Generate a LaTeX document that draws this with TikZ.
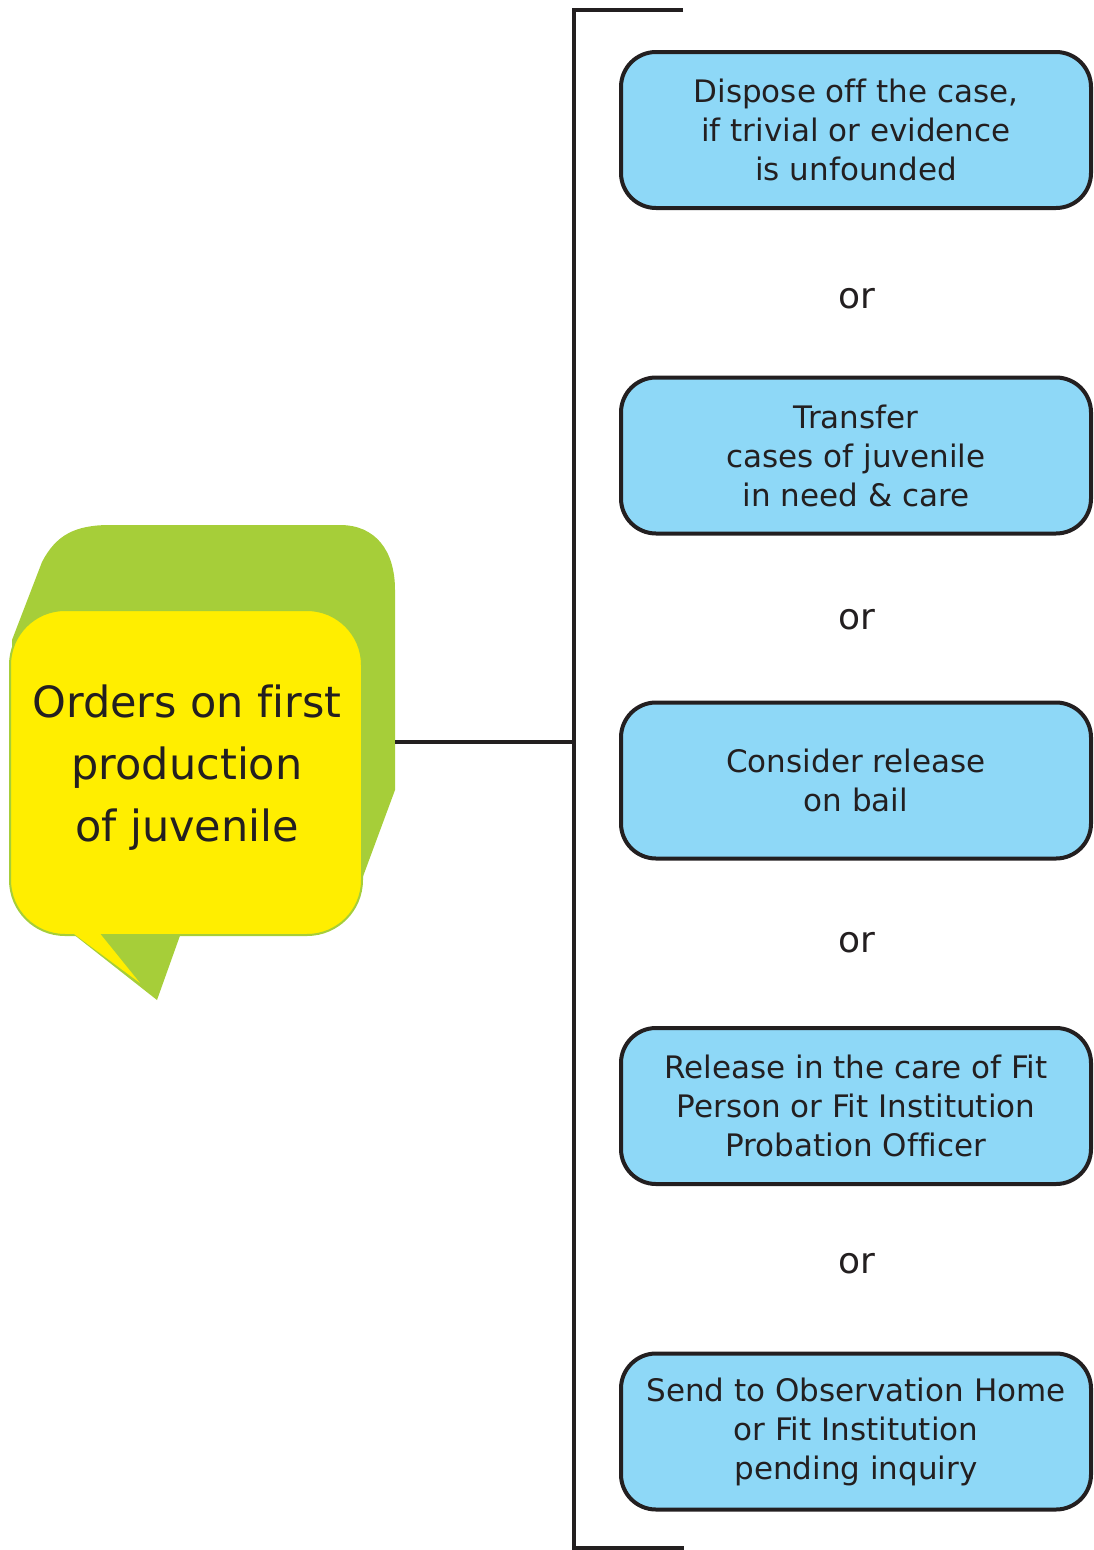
\documentclass[tikz,border=0pt]{standalone}
\usepackage{fontspec}
\setmainfont[Ligatures=NoCommon]{DejaVu Sans}
\definecolor{boxblue}{HTML}{8ED8F7}
\definecolor{bgreen}{HTML}{A6CE39}
\definecolor{byellow}{HTML}{FFEE00}
\definecolor{ink}{HTML}{231F20}
\begin{document}
\begin{tikzpicture}[x=1pt,y=-1pt,
  optbox/.style={draw=ink, line width=4pt, fill=boxblue, rounded corners=35pt,
    minimum width=470pt, minimum height=156pt, align=center, text=ink,
    font=\fontsize{31}{39}\selectfont, inner sep=0pt},
  ortext/.style={text=ink, font=\fontsize{36}{40}\selectfont},
  rule/.style={draw=ink, line width=4pt}]
\useasboundingbox (0,0) rectangle (1094,1550);
% green back shape of the bubble
\fill[bgreen] (12,640) -- (42,562) .. controls (56,535) and (75,525) .. (110,525)
  -- (340,525) .. controls (375,525) and (395,550) .. (395,590)
  -- (395,790) -- (358,890) -- (100,880) -- (14,860) -- cycle;
\fill[bgreen] (68,930) -- (182,930) -- (157,1000) -- cycle;
% yellow front
\node[draw=bgreen, line width=2pt, fill=byellow, rounded corners=55pt,
  minimum width=352pt, minimum height=325pt, inner sep=0pt] (bubble) at (186,772.5) {};
\fill[byellow] (70,931) -- (98,931) -- (140,983) -- cycle;
\node[text=ink, align=center, font=\fontsize{43}{62}\selectfont] (btext) at (187,768)
  {Orders on first\\production\\of juvenile};
% bracket
\coordinate (bt) at (574,10);
\coordinate (bb) at (574,1548);
\coordinate (bte) at (683,10);
\coordinate (bbe) at (684,1548);
\coordinate (bj) at (574,742);
\coordinate (gr) at (395,742);
\draw[rule] (bte) -- (bt) -- (bb) -- (bbe);
\draw[draw=ink, line width=3.5pt] (gr) -- (bj);
% option boxes
\node[optbox] (o1) at (856,130) {Dispose off the case,\\if trivial or evidence\\is unfounded};
\node[optbox] (o2) at (856,455.5) {Transfer\\cases of juvenile\\in need \& care};
\node[optbox] (o3) at (856,780.5) {Consider release\\on bail};
\node[optbox] (o4) at (856,1106) {Release in the care of Fit\\Person or Fit Institution\\Probation Officer};
\node[optbox] (o5) at (856,1431.5) {Send to Observation Home\\or Fit Institution\\pending inquiry};
% or labels
\node[ortext] (or1) at (857,299) {or};
\node[ortext] (or2) at (857,620) {or};
\node[ortext] (or3) at (857,943) {or};
\node[ortext] (or4) at (857,1264) {or};
\end{tikzpicture}
\end{document}
